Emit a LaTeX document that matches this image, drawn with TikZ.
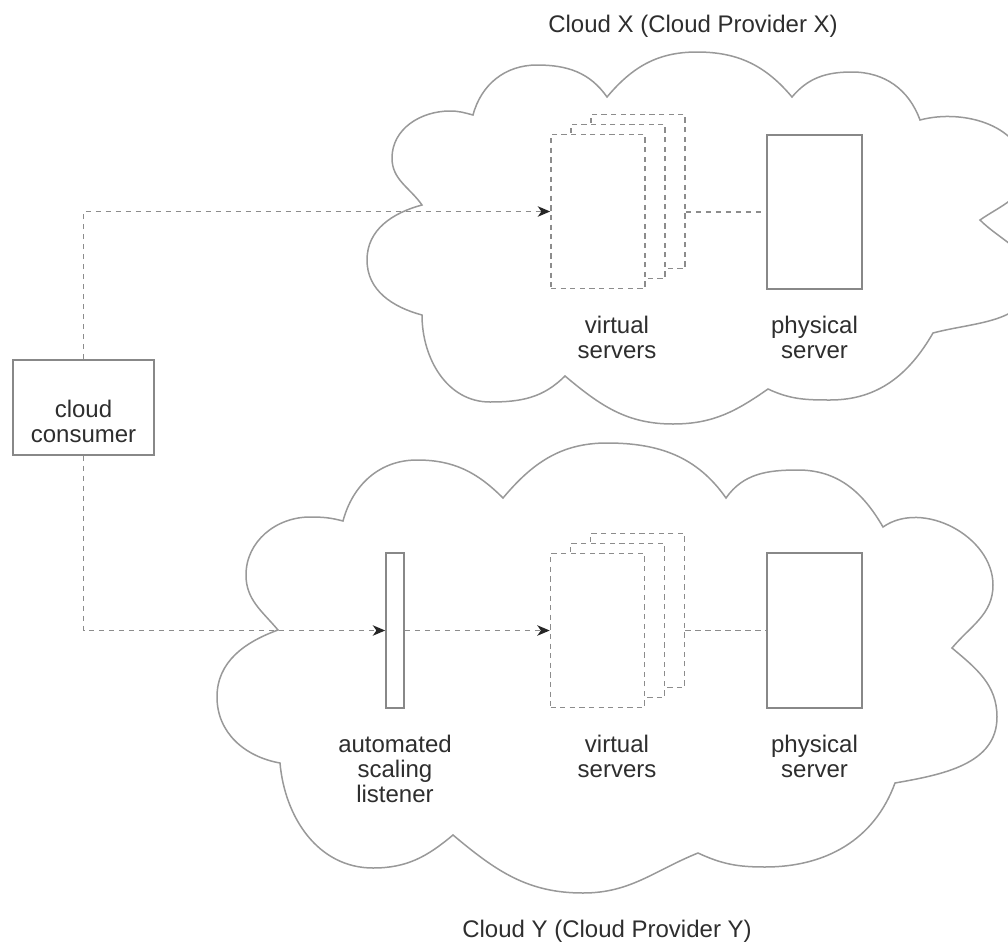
\documentclass[tikz,border=0pt]{standalone}
\usepackage{fontspec}
\setmainfont{Liberation Sans}
\usetikzlibrary{arrows.meta}
\definecolor{outline}{HTML}{999999}
\definecolor{boxline}{HTML}{888888}
\definecolor{dashline}{HTML}{8C8C8C}
\definecolor{tipcol}{HTML}{262626}
\definecolor{txt}{HTML}{2E2E2E}

\begin{document}
\begin{tikzpicture}[x=0.5pt,y=0.5pt,
  cloudline/.style={draw=outline,line width=0.75pt,fill=white,line join=miter},
  server/.style={rectangle,draw=boxline,line width=0.8pt,fill=white,inner sep=0pt},
  vserver/.style={rectangle,draw=dashline,line width=0.8pt,fill=white,inner sep=0pt,
    dash pattern=on 2.6pt off 2.2pt,minimum width=47pt,minimum height=77pt},
  conn/.style={draw=dashline,line width=0.8pt,dash pattern=on 2.6pt off 2.4pt},
  arr/.style={conn,-{Stealth[length=6.2pt,width=5.2pt,inset=1.8pt,color=tipcol]}},
  lbl/.style={text=txt,font=\fontsize{12pt}{12.5pt}\selectfont,align=center,
    inner sep=0pt,anchor=north}]

\useasboundingbox (0,0) rectangle (1008,-943);
\clip (0,0) rectangle (1008,-943);

% Cloud X outline
\draw[cloudline] (422,-205)
  to[out=125,in=270] (392,-158)
  to[out=90,in=180] (450,-111)
  to[out=0,in=165] (473,-115)
  to[out=75,in=180] (537,-65)
  to[out=0,in=125] (607,-97)
  to[out=50,in=180] (697,-52)
  to[out=0,in=130] (792,-97)
  to[out=50,in=180] (852,-72)
  to[out=0,in=110] (920,-120)
  to[out=15,in=90] (1025,-172)
  to[out=270,in=35] (980,-220)
  to[out=-45,in=90] (1030,-280)
  to[out=270,in=15] (933,-333)
  to[out=-120,in=0] (830,-400)
  to[out=180,in=-25] (768,-389)
  to[out=-145,in=0] (673,-424)
  to[out=180,in=-40] (565,-376)
  to[out=-135,in=0] (490,-402)
  to[out=180,in=-90] (422,-315)
  to[out=165,in=270] (367,-260)
  to[out=90,in=195] (422,-205) -- cycle;

% Cloud Y outline
\draw[cloudline] (278,-630)
  to[out=130,in=270] (246,-575)
  to[out=90,in=180] (310,-517)
  to[out=0,in=165] (343,-521)
  to[out=75,in=180] (417,-460)
  to[out=0,in=135] (503,-498)
  to[out=50,in=180] (607,-443)
  to[out=0,in=125] (726,-498)
  to[out=55,in=180] (798,-470)
  to[out=0,in=120] (883,-527)
  to[out=35,in=90] (993,-585)
  to[out=270,in=50] (952,-648)
  to[out=-40,in=90] (997,-717)
  to[out=270,in=10] (895,-783)
  to[out=-110,in=0] (765,-867)
  to[out=180,in=-25] (698,-853)
  to[out=-158,in=0] (583,-893)
  to[out=180,in=-40] (453,-835)
  to[out=-140,in=0] (373,-868)
  to[out=180,in=-85] (280,-763)
  to[out=170,in=270] (217,-697)
  to[out=90,in=200] (278,-630) -- cycle;

% titles
\node[lbl] (titlex) at (693,-15) {Cloud X (Cloud Provider X)};
\node[lbl] (titley) at (607,-920) {Cloud Y (Cloud Provider Y)};

% cloud consumer
\node[server,minimum width=70.5pt,minimum height=47.5pt] (consumer) at (83.5,-407.5) {};
\node[lbl] (consumerlbl) at (83.5,-400) {cloud\\consumer};

% Cloud X servers
\node[vserver] (vsxB) at (638,-191.5) {};
\node[vserver] (vsxM) at (618,-201.5) {};
\node[vserver] (vsxF) at (598,-211.5) {};
\node[server,minimum width=47.5pt,minimum height=77pt] (psx) at (814.5,-212) {};
\node[lbl] (vsxlbl) at (617,-316) {virtual\\servers};
\node[lbl] (psxlbl) at (814.5,-316) {physical\\server};

% Cloud Y servers
\node[server,minimum width=9pt,minimum height=77.5pt] (lsn) at (395,-630.5) {};
\node[vserver] (vsyB) at (637.5,-610.5) {};
\node[vserver] (vsyM) at (617.5,-620.5) {};
\node[vserver] (vsyF) at (597.5,-630.5) {};
\node[server,minimum width=47.5pt,minimum height=77.5pt] (psy) at (814.5,-630.5) {};
\node[lbl] (lsnlbl) at (395,-735) {automated\\scaling\\listener};
\node[lbl] (vsylbl) at (617,-735) {virtual\\servers};
\node[lbl] (psylbl) at (814.5,-735) {physical\\server};

% connectors
\draw[arr] (consumer.north) |- (vsxF.west);
\draw[conn] (vsxB.east |- psx.west) -- (psx.west);
\draw[arr] (consumer.south) |- (lsn.west);
\draw[arr] (lsn.east) -- (vsyF.west);
\draw[conn] (vsyB.east |- psy.west) -- (psy.west);
\end{tikzpicture}
\end{document}
